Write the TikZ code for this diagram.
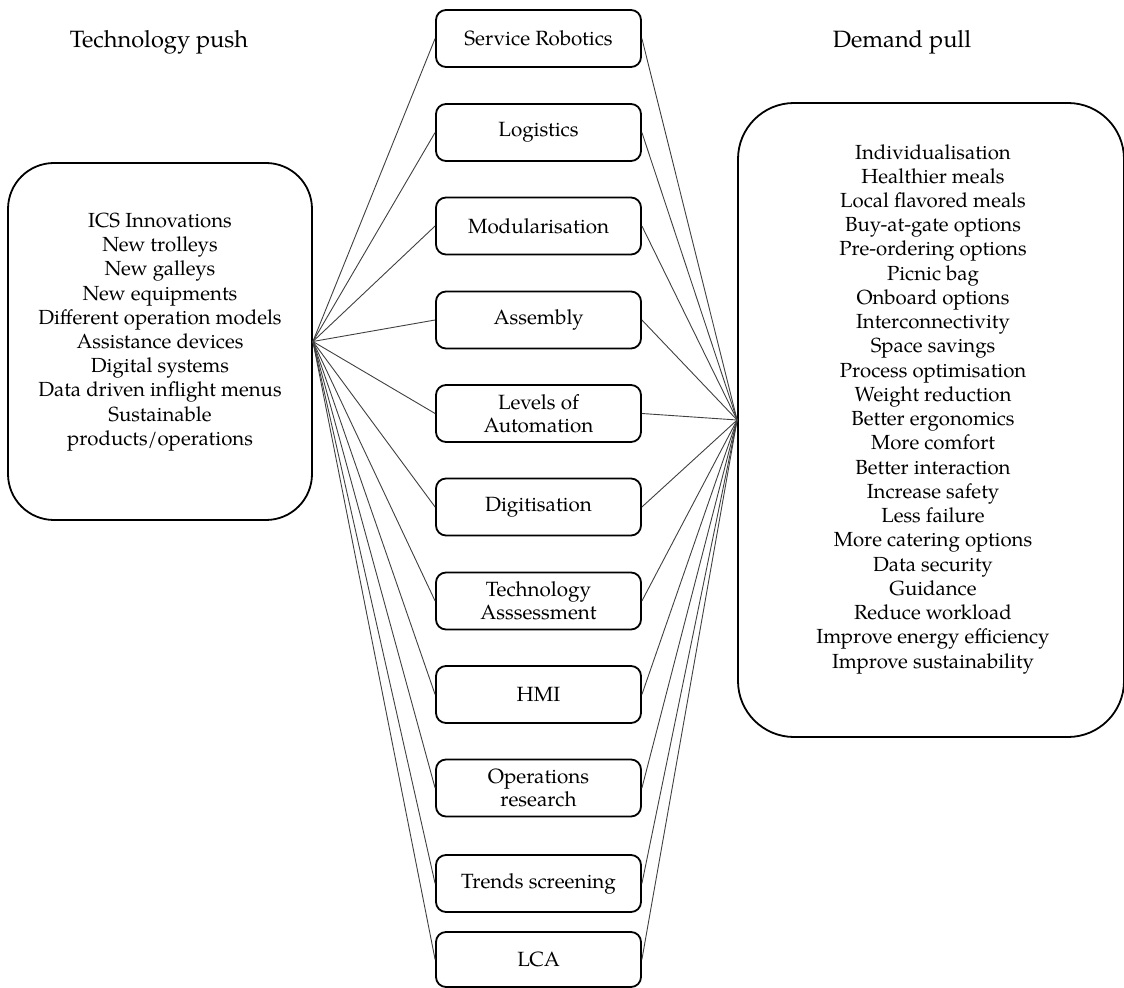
\documentclass[tikz,border=0pt]{standalone}
\usepackage{fontspec}
\setmainfont{TeX Gyre Pagella}
\begin{document}
\begin{tikzpicture}[x=0.5pt,y=-0.5pt,
  topic/.style={draw, line width=0.9pt, rounded corners=5pt,
    minimum width=102.5pt, minimum height=28.5pt, align=center,
    font=\fontsize{10.3}{11.6}\selectfont, inner sep=0pt},
  group/.style={draw, line width=0.9pt, inner sep=0pt},
  listtext/.style={align=center, font=\fontsize{10.2}{12.12}\selectfont, inner sep=0pt},
  link/.style={draw=black!75, line width=0.45pt},
  heading/.style={font=\fontsize{11.8}{14}\selectfont, inner sep=0pt}]
\useasboundingbox (0,0) rectangle (1124,988);

% headings
\node[heading] (hpush) at (159,42) {Technology push};
\node[heading] (hpull) at (902,42) {Demand pull};

% technology push group
\node[group, rounded corners=23pt, minimum width=152pt, minimum height=178.5pt] (push) at (160,341.5) {};
\node[listtext] (pushtext) at (160,332) {ICS Innovations\\New trolleys\\New galleys\\New equipments\\Different operation models\\Assistance devices\\Digital systems\\Data driven inflight menus\\Sustainable\\products/operations};

% demand pull group
\node[group, rounded corners=28pt, minimum width=193pt, minimum height=317pt] (pull) at (931,420) {};
\node[listtext] (pulltext) at (933,409) {Individualisation\\Healthier meals\\Local flavored meals\\Buy-at-gate options\\Pre-ordering options\\Picnic bag\\Onboard options\\Interconnectivity\\Space savings\\Process optimisation\\Weight reduction\\Better ergonomics\\More comfort\\Better interaction\\Increase safety\\Less failure\\More catering options\\Data security\\Guidance\\Reduce workload\\Improve energy efficiency\\Improve sustainability};

% research topics
\node[topic] (t1) at (538.5,38.5) {Service Robotics};
\node[topic] (t2) at (538.5,132.5) {Logistics};
\node[topic] (t3) at (538.5,226) {Modularisation};
\node[topic] (t4) at (538.5,320) {Assembly};
\node[topic] (t5) at (538.5,413.5) {Levels of\\Automation};
\node[topic] (t6) at (538.5,507) {Digitisation};
\node[topic] (t7) at (538.5,601) {Technology\\Asssessment};
\node[topic] (t8) at (538.5,694.5) {HMI};
\node[topic] (t9) at (538.5,788) {Operations\\research};
\node[topic] (t10) at (538.5,883.5) {Trends screening};
\node[topic, minimum height=27.5pt] (t11) at (538.5,959.5) {LCA};

% connectors
\foreach \t in {t1,t2,t3,t4,t5,t6,t7,t8,t9,t10,t11} {
  \draw[link] (push.east) -- (\t.west);
  \draw[link] (\t.east) -- (pull.west);
}
\end{tikzpicture}
\end{document}
